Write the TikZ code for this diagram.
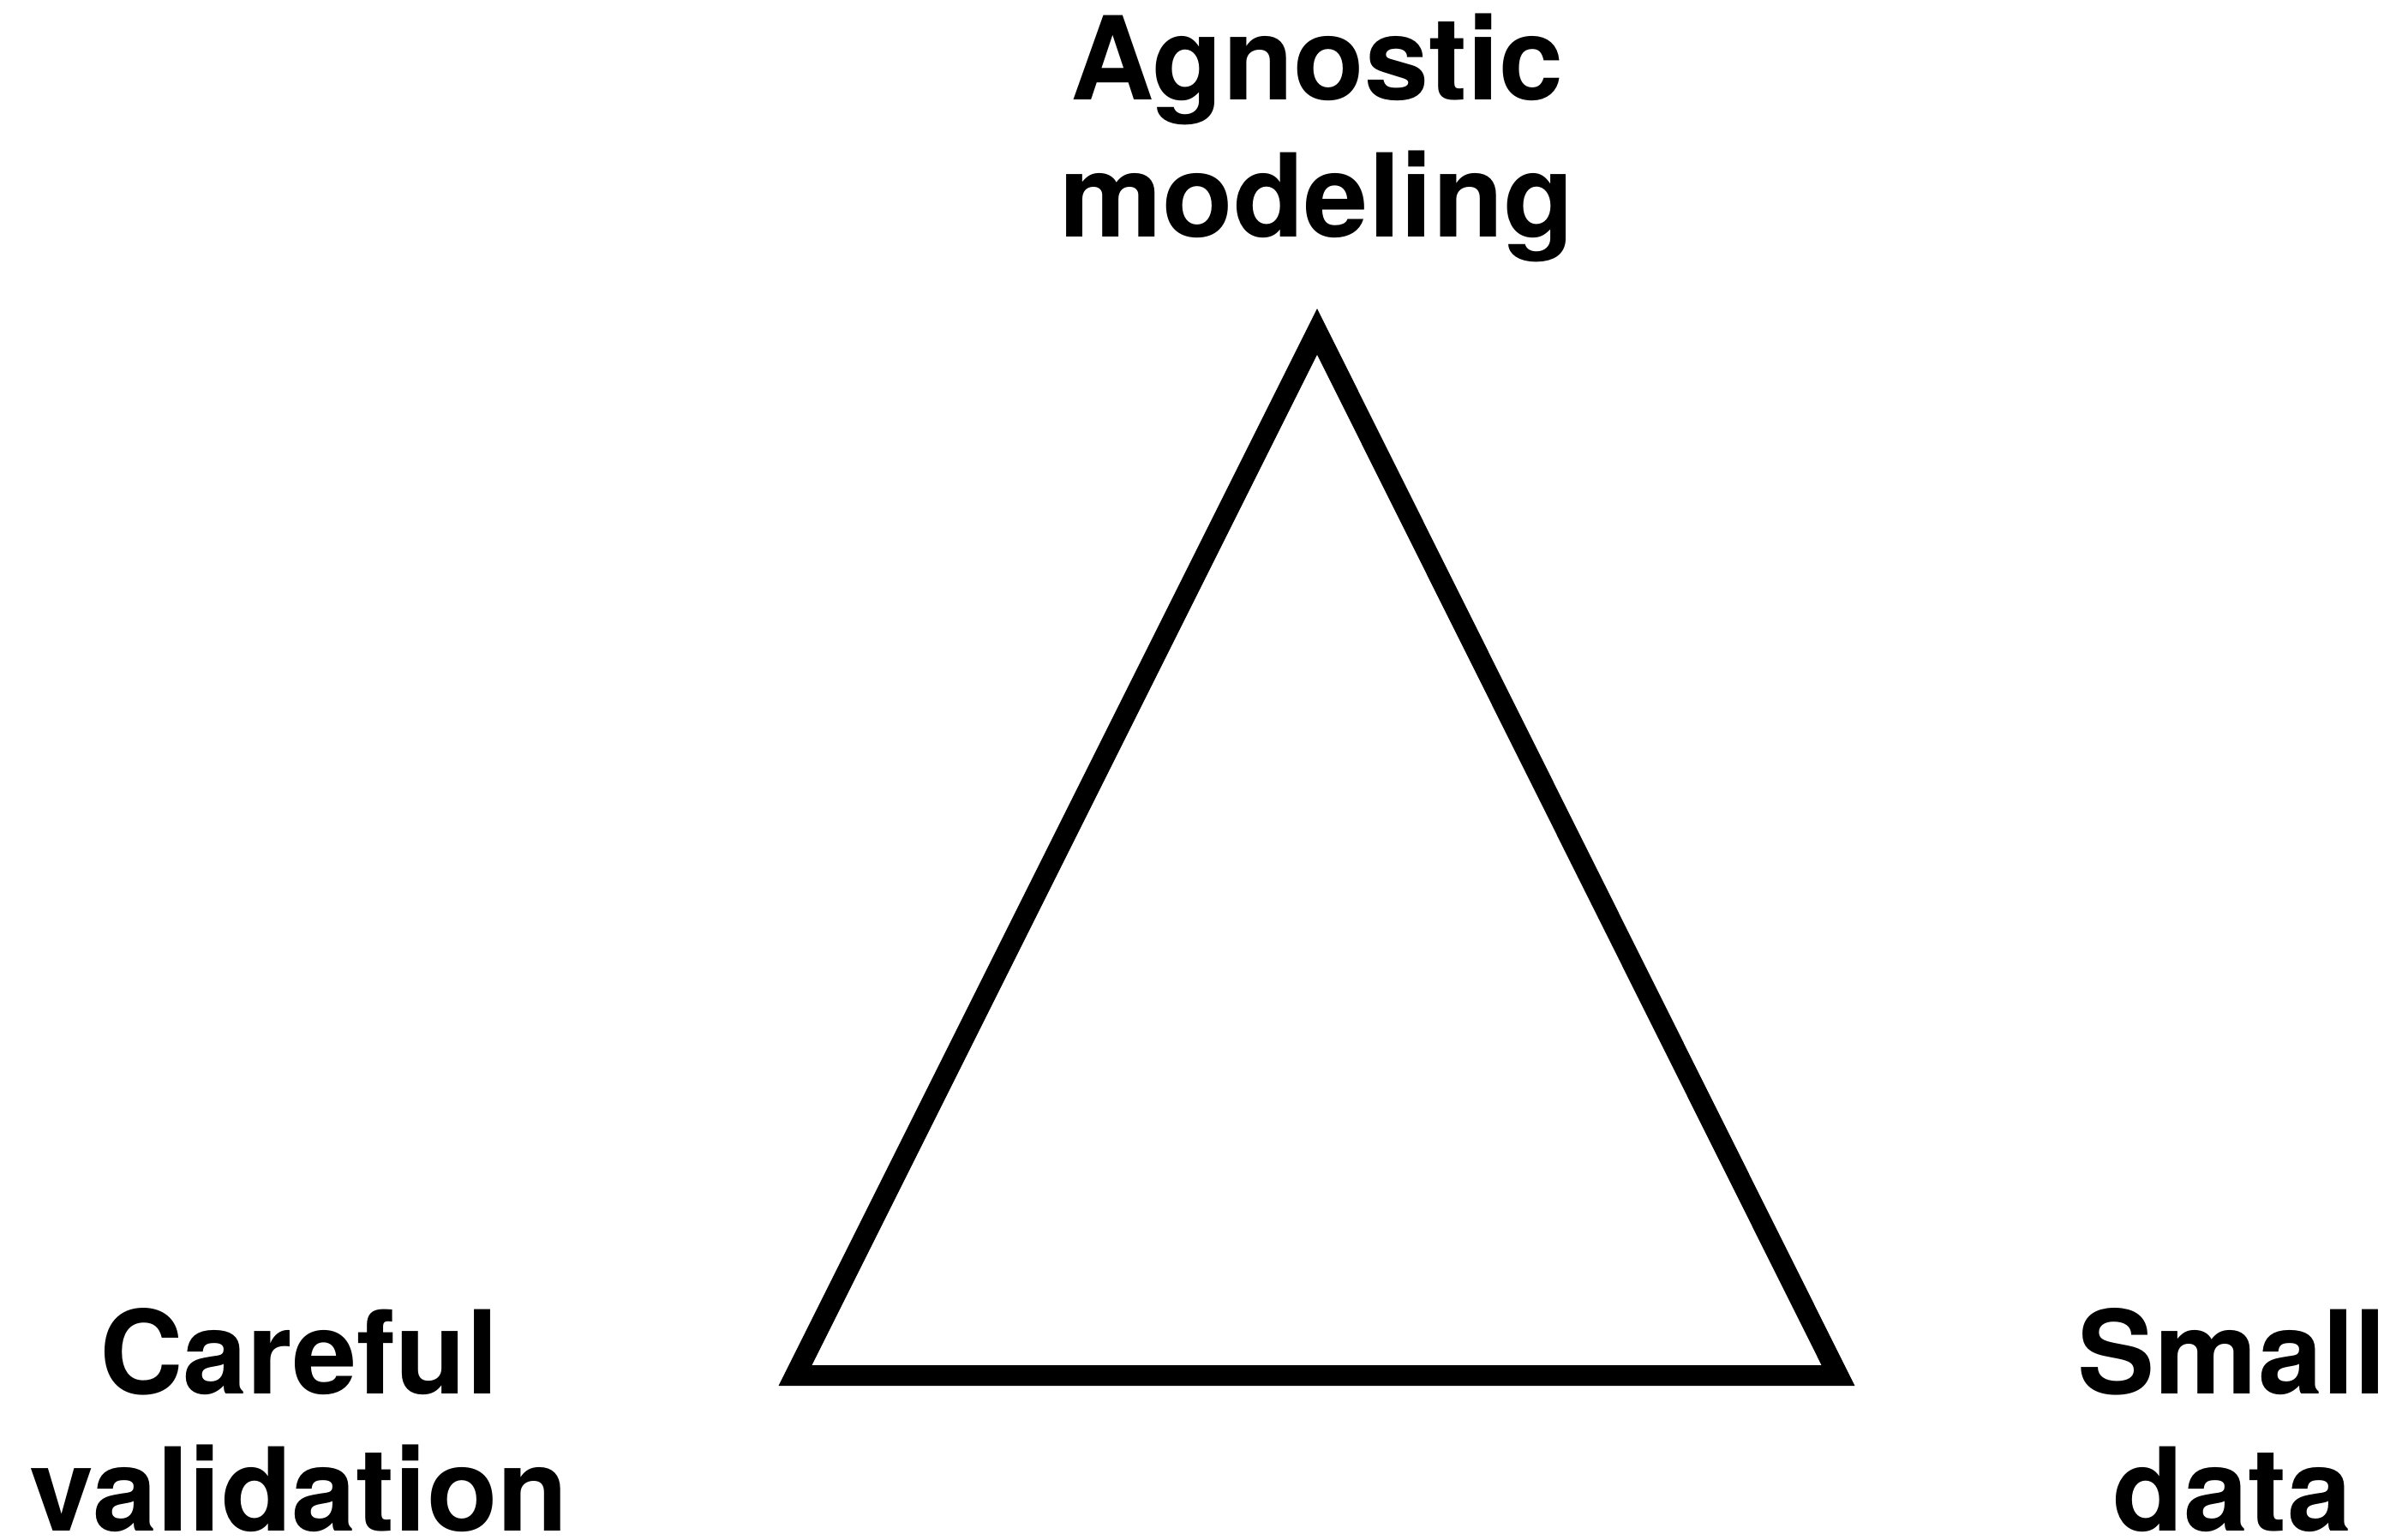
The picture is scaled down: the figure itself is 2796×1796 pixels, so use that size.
\documentclass[tikz,border=0pt]{standalone}
\usepackage{fontspec}
\setmainfont{TeX Gyre Heros}
\begin{document}
\begin{tikzpicture}[x=1pt,y=-1pt,
  corner/.style={font=\bfseries\fontsize{135}{160}\selectfont, align=center, anchor=base, inner sep=0pt},
  edge/.style={line width=24pt, line join=miter, black}]
\useasboundingbox (0,0) rectangle (2796,1796);
% vertices of the triangle (stroke centre line)
\coordinate (top) at (1537,387);
\coordinate (bl) at (928,1605);
\coordinate (br) at (2145,1605);
\draw[edge] (top) -- (bl) -- (br) -- cycle;
% corner labels (base anchor sits on the second line's baseline)
\node[corner] (agn) at (1537,276) {Agnostic\\modeling};
\node[corner] (val) at (349,1786) {Careful\\validation};
\node[corner] (dat) at (2605,1786) {Small\\data};
\end{tikzpicture}
\end{document}
